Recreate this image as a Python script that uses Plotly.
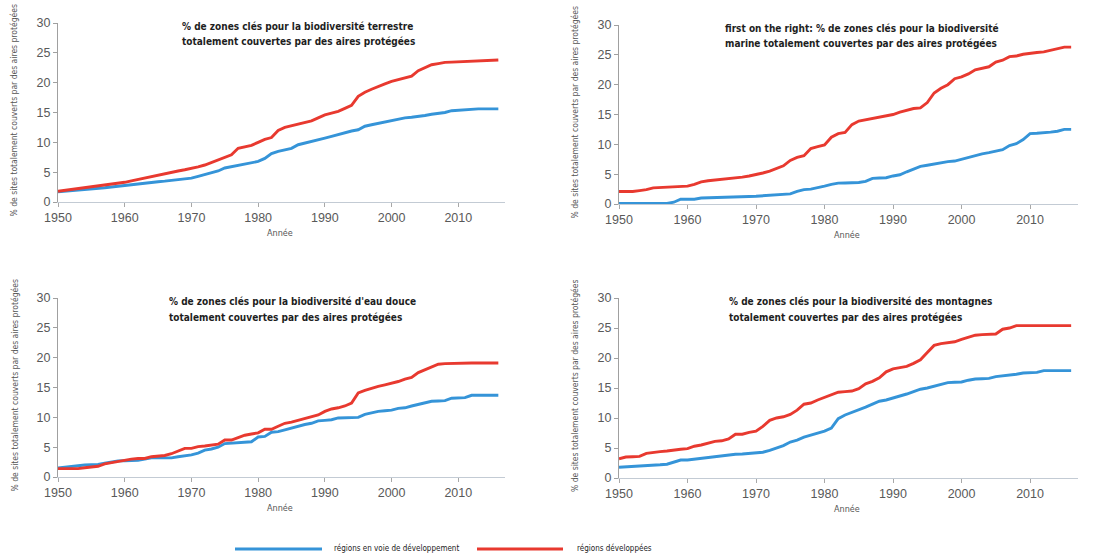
import plotly.graph_objects as go

years = list(range(1950, 2017))

def expand(points):
    out = []
    pts = sorted(points)
    for y in years:
        for i in range(len(pts) - 1):
            (y0, v0), (y1, v1) = pts[i], pts[i + 1]
            if y0 <= y <= y1:
                v = v0 + (v1 - v0) * (y - y0) / (y1 - y0) if y1 != y0 else v0
                out.append(round(v, 2))
                break
        else:
            out.append(pts[-1][1])
    return out

# Terrestre
terr_dev_pts = [(1950,1.8),(1955,2.5),(1960,3.3),(1962,3.8),(1965,4.5),(1966,4.7),(1968,5.2),(1970,5.6),
                (1972,6.2),(1974,7.0),(1976,7.9),(1977,9.0),(1979,9.5),(1980,10.0),(1981,10.5),(1982,10.8),
                (1983,12.0),(1984,12.5),(1986,13.0),(1988,13.6),(1990,14.6),(1992,15.2),(1994,16.2),(1995,17.7),
                (1996,18.4),(1998,19.4),(2000,20.2),(2002,20.8),(2003,21.1),(2004,22.0),(2006,23.0),(2008,23.4),
                (2010,23.5),(2012,23.7),(2016,23.8)]
terr_devp_pts = [(1950,1.7),(1955,2.1),(1960,2.8),(1965,3.4),(1967,3.6),(1970,4.0),(1972,4.6),(1974,5.2),
                 (1975,5.7),(1977,6.1),(1979,6.5),(1980,6.8),(1981,7.3),(1982,8.1),(1983,8.5),(1985,9.0),
                 (1986,9.6),(1988,10.1),(1990,10.7),(1992,11.3),(1993,11.7),(1995,12.1),(1996,12.7),(1998,13.2),
                 (2000,13.6),(2002,14.1),(2004,14.3),(2006,14.7),(2008,15.0),(2009,15.3),(2012,15.6),(2016,15.6)]
# Marine
mar_dev_pts = [(1950,2.1),(1952,2.1),(1954,2.4),(1955,2.7),(1957,2.8),(1958,2.9),(1960,3.0),(1961,3.3),
               (1962,3.7),(1963,3.9),(1965,4.1),(1967,4.3),(1968,4.5),(1970,4.9),(1971,5.2),(1972,5.5),
               (1973,5.9),(1974,6.4),(1975,7.3),(1976,7.8),(1977,8.1),(1978,9.3),(1979,9.6),(1980,9.9),
               (1981,11.2),(1982,11.8),(1983,12.0),(1984,13.3),(1985,13.9),(1986,14.1),(1988,14.5),(1990,15.0),
               (1991,15.4),(1992,15.7),(1993,16.0),(1994,16.1),(1995,17.0),(1996,18.6),(1997,19.4),(1998,20.0),
               (1999,21.0),(2000,21.3),(2001,21.8),(2002,22.5),(2003,22.8),(2004,23.0),(2005,23.8),(2006,24.1),
               (2007,24.7),(2008,24.8),(2009,25.1),(2010,25.3),(2012,25.5),(2013,25.8),(2014,26.0),(2015,26.3),
               (2016,26.3)]
mar_devp_pts = [(1950,0.1),(1957,0.1),(1958,0.3),(1959,0.8),(1961,0.8),(1962,1.0),(1966,1.1),(1968,1.2),
                (1970,1.3),(1972,1.5),(1973,1.6),(1975,1.7),(1976,2.1),(1977,2.4),(1978,2.5),(1979,2.7),
                (1980,3.0),(1981,3.3),(1982,3.5),(1985,3.6),(1986,3.8),(1987,4.3),(1989,4.4),(1990,4.7),
                (1991,4.9),(1992,5.4),(1993,5.8),(1994,6.3),(1995,6.5),(1996,6.7),(1997,7.0),(1999,7.2),
                (2000,7.5),(2001,7.8),(2002,8.2),(2003,8.4),(2004,8.6),(2005,8.8),(2006,9.1),(2007,9.8),
                (2008,10.1),(2009,10.8),(2010,11.8),(2012,11.9),(2014,12.2),(2015,12.5),(2016,12.5)]
# Eau douce
eau_dev_pts = [(1950,1.4),(1953,1.4),(1955,1.7),(1956,1.8),(1957,2.2),(1958,2.4),(1960,2.9),(1962,3.1),
               (1963,3.1),(1964,3.4),(1966,3.6),(1967,3.9),(1968,4.4),(1969,4.8),(1970,4.8),(1971,5.1),
               (1973,5.3),(1974,5.5),(1975,6.2),(1976,6.2),(1977,6.6),(1978,7.0),(1980,7.4),(1981,8.0),
               (1982,8.0),(1983,8.5),(1984,9.0),(1985,9.2),(1986,9.5),(1987,9.7),(1988,10.0),(1989,10.4),
               (1990,11.0),(1991,11.4),(1992,11.6),(1993,11.9),(1994,12.4),(1995,14.1),(1996,14.5),(1997,14.9),
               (1998,15.2),(2000,15.7),(2001,16.0),(2002,16.4),(2003,16.7),(2004,17.5),(2005,18.0),(2006,18.5),
               (2007,18.9),(2008,19.0),(2010,19.1),(2016,19.1)]
eau_devp_pts = [(1950,1.5),(1952,1.8),(1954,2.0),(1956,2.1),(1958,2.5),(1959,2.7),(1962,2.8),(1963,3.0),
                (1964,3.2),(1967,3.2),(1968,3.4),(1970,3.7),(1971,4.0),(1972,4.5),(1973,4.7),(1974,5.0),
                (1975,5.6),(1977,5.7),(1979,5.9),(1980,6.7),(1981,6.8),(1982,7.5),(1983,7.6),(1985,8.2),
                (1986,8.6),(1988,9.0),(1989,9.4),(1990,9.5),(1991,9.6),(1992,9.9),(1995,10.0),(1996,10.5),
                (1997,10.8),(1998,11.0),(2000,11.2),(2001,11.5),(2002,11.6),(2003,11.9),(2004,12.2),(2005,12.5),
                (2006,12.7),(2008,12.8),(2009,13.2),(2011,13.3),(2012,13.7),(2016,13.7)]
# Montagnes
mon_dev_pts = [(1950,3.2),(1951,3.5),(1953,3.6),(1954,4.1),(1955,4.3),(1956,4.4),(1957,4.5),(1958,4.7),
               (1959,4.8),(1960,4.9),(1961,5.3),(1962,5.5),(1963,5.8),(1964,6.1),(1965,6.2),(1966,6.5),
               (1967,7.3),(1968,7.3),(1969,7.6),(1970,7.8),(1971,8.6),(1972,9.6),(1973,10.0),(1974,10.2),
               (1975,10.6),(1976,11.3),(1977,12.3),(1978,12.5),(1979,13.0),(1980,13.4),(1981,13.9),(1982,14.3),
               (1983,14.4),(1984,14.5),(1985,14.9),(1986,15.7),(1987,16.1),(1988,16.7),(1989,17.7),(1990,18.2),
               (1991,18.4),(1992,18.6),(1993,19.1),(1994,19.7),(1995,20.9),(1996,22.1),(1997,22.4),(1998,22.5),
               (1999,22.7),(2000,23.1),(2001,23.4),(2002,23.8),(2003,23.9),(2005,24.0),(2006,24.8),(2007,25.0),
               (2008,25.4),(2016,25.4)]
mon_devp_pts = [(1950,1.8),(1952,1.9),(1954,2.1),(1956,2.2),(1957,2.3),(1958,2.6),(1959,3.0),(1960,3.0),
                (1962,3.3),(1964,3.5),(1966,3.9),(1968,4.0),(1970,4.2),(1971,4.3),(1972,4.6),(1973,5.0),
                (1974,5.4),(1975,6.0),(1976,6.3),(1977,6.8),(1978,7.1),(1979,7.4),(1980,7.8),(1981,8.3),
                (1982,9.9),(1983,10.5),(1984,10.9),(1985,11.3),(1986,11.8),(1987,12.3),(1988,12.8),(1989,13.0),
                (1990,13.3),(1991,13.6),(1992,14.0),(1993,14.4),(1994,14.8),(1995,15.0),(1996,15.3),(1997,15.7),
                (1998,15.9),(2000,16.0),(2001,16.3),(2002,16.5),(2004,16.6),(2005,16.9),(2007,17.1),(2008,17.3),
                (2009,17.5),(2011,17.6),(2012,17.9),(2016,17.9)]

titles = [
    ["% de zones clés pour la biodiversité terrestre", "totalement couvertes par des aires protégées"],
    ["first on the right: % de zones clés pour la biodiversité", "marine totalement couvertes par des aires protégées"],
    ["% de zones clés pour la biodiversité d'eau douce", "totalement couvertes par des aires protégées"],
    ["% de zones clés pour la biodiversité des montagnes", "totalement couvertes par des aires protégées"],
]
series_names = ["régions en voie de développement", "régions développées"]
x_title = "Année"
y_title = "% de sites totalement couverts par des aires protégées"
y_ticks = [0, 5, 10, 15, 20, 25, 30]
x_ticks = [1950, 1960, 1970, 1980, 1990, 2000, 2010]

panels = [
    (terr_devp_pts, terr_dev_pts),
    (mar_devp_pts, mar_dev_pts),
    (eau_devp_pts, eau_dev_pts),
    (mon_devp_pts, mon_dev_pts),
]

BLUE = "#3594d8"
RED = "#e8392f"
W, H = 1104, 556
NARROW = "DejaVu Sans Condensed, Liberation Sans Narrow, sans-serif"
SANS = "Liberation Sans, Arial, sans-serif"

# plot areas in pixels: (left, right, top, bottom)
boxes = [(58, 505, 23, 202), (619, 1078, 25, 204), (58, 505, 298, 477), (619, 1078, 298, 478)]
# title placement: (left x, first line y) in pixels
title_pos = [(180, 26), (723, 28), (167, 301), (727, 301)]

fig = go.Figure()
layout = {}
annotations = []
for i, ((devp, dev), box, title, tpos) in enumerate(zip(panels, boxes, titles, title_pos)):
    n = i + 1
    xa = "x" if n == 1 else f"x{n}"
    ya = "y" if n == 1 else f"y{n}"
    fig.add_trace(go.Scatter(x=years, y=expand(devp), mode="lines", name=series_names[0],
                             line=dict(color=BLUE, width=2.9), xaxis=xa, yaxis=ya, showlegend=False))
    fig.add_trace(go.Scatter(x=years, y=expand(dev), mode="lines", name=series_names[1],
                             line=dict(color=RED, width=2.9), xaxis=xa, yaxis=ya, showlegend=False))
    l, r, t, b = box
    xkey = "xaxis" if n == 1 else f"xaxis{n}"
    ykey = "yaxis" if n == 1 else f"yaxis{n}"
    common = dict(showgrid=False, zeroline=False, showline=True, linewidth=1,
                  ticks="outside", ticklen=4, automargin=False,
                  tickfont=dict(family=SANS, size=12.5, color="#595959"))
    layout[xkey] = dict(domain=[l / W, r / W], anchor=ya, range=[1950, 2017], tickvals=x_ticks,
                        linecolor="#c3cbd4", tickcolor="#a8a8a8", **common)
    layout[ykey] = dict(domain=[1 - b / H, 1 - t / H], anchor=xa, range=[0, 30], tickvals=y_ticks,
                        linecolor="#a0a0a0", tickcolor="#a0a0a0", **common)
    # panel title (two left-aligned lines)
    tx, ty = tpos
    for k, line in enumerate(title):
        annotations.append(dict(x=tx / W, y=1 - (ty + 16 * k) / H, xref="paper", yref="paper", text=line,
                                showarrow=False, xanchor="left", yanchor="middle",
                                font=dict(family=NARROW, size=10, color="#1e1e1e", weight="bold")))
    # x axis title
    annotations.append(dict(x=((l + r) / 2 - 2) / W, y=1 - (b + 31) / H, xref="paper", yref="paper",
                            text=x_title, showarrow=False, xanchor="center", yanchor="middle",
                            font=dict(family=NARROW, size=9, color="#555555")))
    # y axis title
    annotations.append(dict(x=(l - 44) / W, y=1 - ((t + b) / 2 - 2) / H, xref="paper", yref="paper",
                            text=y_title, showarrow=False, textangle=-90, xanchor="center", yanchor="middle",
                            font=dict(family=NARROW, size=8.5, color="#555555")))

# custom legend (long line keys like the reference)
shapes = [
    dict(type="line", xref="paper", yref="paper", x0=235 / W, x1=322 / W, y0=1 - 549 / H, y1=1 - 549 / H,
         line=dict(color=BLUE, width=2.8)),
    dict(type="line", xref="paper", yref="paper", x0=477 / W, x1=563 / W, y0=1 - 549 / H, y1=1 - 549 / H,
         line=dict(color=RED, width=2.8)),
]
annotations.append(dict(x=332 / W, y=1 - 548 / H, xref="paper", yref="paper", text=series_names[0],
                        showarrow=False, xanchor="left", yanchor="middle",
                        font=dict(family=NARROW, size=8, color="#222222")))
annotations.append(dict(x=575 / W, y=1 - 548 / H, xref="paper", yref="paper", text=series_names[1],
                        showarrow=False, xanchor="left", yanchor="middle",
                        font=dict(family=NARROW, size=8, color="#222222")))

fig.update_layout(width=W, height=H, margin=dict(l=0, r=0, t=0, b=0, autoexpand=False),
                  paper_bgcolor="white", plot_bgcolor="white", annotations=annotations, shapes=shapes,
                  showlegend=False, **layout)
fig.write_html("out.html", config={"displayModeBar": False},
               post_script="document.body.style.margin='0';document.body.style.padding='0';"
                           "document.documentElement.style.overflow='hidden';")
